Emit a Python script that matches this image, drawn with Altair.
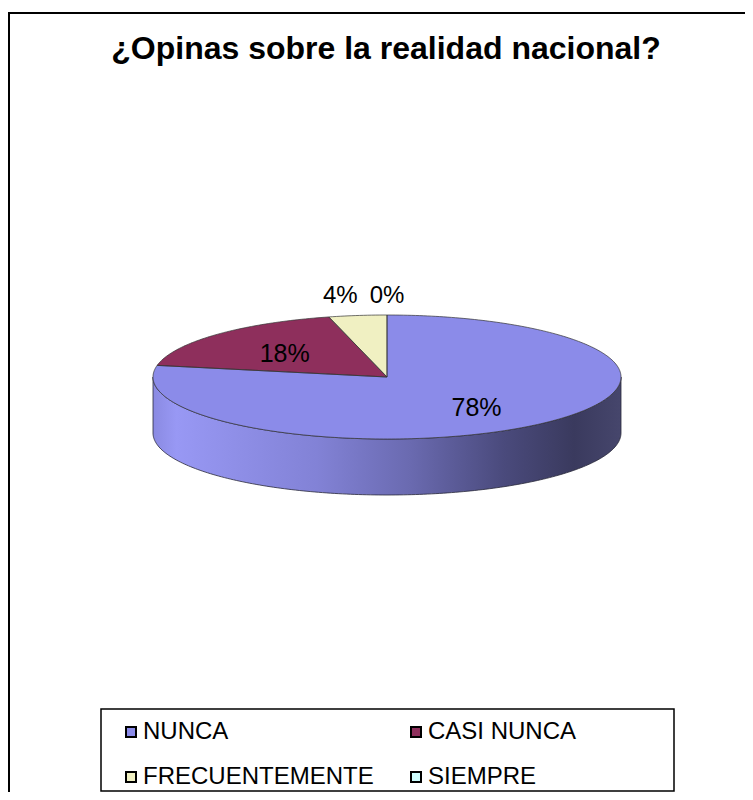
import math
import altair as alt
import pandas as pd

# ---- data ----
categories = ["NUNCA", "CASI NUNCA", "FRECUENTEMENTE", "SIEMPRE"]
values = [78, 18, 4, 0]
labels = ["78%", "18%", "4%", "0%"]
colors = ["#8b8be9", "#8e2f5c", "#f0f0c2", "#ccfcfc"]
title_text = "¿Opinas sobre la realidad nacional?"

# ---- 3D pie geometry (unit circle, tilted) ----
TILT = 62 / 234      # vertical squash of the top ellipse
DEPTH = 56 / 234     # thickness of the pie
RX = 234             # projection scale (ellipse half width in px)
CX, CY = 379, 369    # pie centre in view coordinates
W, H = 737, 784


def pt(theta_deg, dy=0.0, r=1.0):
    t = math.radians(theta_deg)
    return [r * math.sin(t), -r * math.cos(t) * TILT + dy]


total = sum(values)
tops, walls, label_rows = [], [], []
start = 0.0
for cat, v, lab in zip(categories, values, labels):
    span = 360.0 * v / total
    end = start + span
    mid = (start + end) / 2
    if span > 0:
        n = max(2, int(math.ceil(span)))
        ring = [[0.0, 0.0]] + [pt(start + span * i / n) for i in range(n + 1)] + [[0.0, 0.0]]
        tops.append({"type": "Feature", "properties": {"category": cat},
                     "geometry": {"type": "Polygon", "coordinates": [ring]}})
        a, b = max(start, 90.0), min(end, 270.0)
        if b > a:
            m = max(2, int(math.ceil(b - a)))
            top = [pt(a + (b - a) * i / m) for i in range(m + 1)]
            bot = [pt(a + (b - a) * i / m, DEPTH) for i in range(m, -1, -1)]
            wring = top + bot + [top[0]]
            walls.append({"type": "Feature", "properties": {"category": cat},
                          "geometry": {"type": "Polygon", "coordinates": [wring]}})
    frac = v / total
    if frac >= 0.1:
        lon, lat = pt(mid, r=0.6)
        label_rows.append({"label": lab, "lon": lon, "lat": lat, "kind": "inside"})
    else:
        lon, lat = pt(mid, r=1.0)
        s = math.sin(math.radians(mid))
        kind = "right" if s < -0.05 else ("left" if s > 0.05 else "center")
        label_rows.append({"label": lab, "lon": lon, "lat": lat, "kind": kind})
    start = end

labels_df = pd.DataFrame(label_rows)
proj = dict(type="identity", scale=RX, translate=[CX, CY])
one = pd.DataFrame({"k": [0]})
FONT = "Liberation Sans"

frame_left = alt.Chart(one).mark_rule(color="black", strokeWidth=2).encode(
    x=alt.value(1), y=alt.value(5), y2=alt.value(H))
frame_top = alt.Chart(one).mark_rule(color="black", strokeWidth=2).encode(
    x=alt.value(0), x2=alt.value(W), y=alt.value(5))
legend_box = alt.Chart(one).mark_rect(filled=False, stroke="black", strokeWidth=1.5).encode(
    x=alt.value(93), x2=alt.value(666), y=alt.value(701), y2=alt.value(H - 1))

wall_fill = alt.Gradient(
    gradient="linear", x1=0, x2=1, y1=0, y2=0,
    stops=[
        alt.GradientStop(color="#8a8ae2", offset=0.0),
        alt.GradientStop(color="#9898f4", offset=0.05),
        alt.GradientStop(color="#8282d6", offset=0.35),
        alt.GradientStop(color="#6a6ab0", offset=0.55),
        alt.GradientStop(color="#4a4a7c", offset=0.75),
        alt.GradientStop(color="#3a3a5e", offset=0.9),
        alt.GradientStop(color="#46466c", offset=1.0),
    ])

wall = alt.Chart(alt.Data(values=walls)).mark_geoshape(
    fill=wall_fill, stroke="#2a2a3a", strokeWidth=0.8).project(**proj)

# slice tops: fill only, carries the legend
top = alt.Chart(alt.Data(values=tops)).mark_geoshape().encode(
    color=alt.Color(
        "properties.category:N",
        scale=alt.Scale(domain=categories, range=colors),
        legend=alt.Legend(
            orient="none", legendX=111, legendY=712, columns=2, direction="horizontal",
            title=None, symbolType="square", symbolSize=100, symbolStrokeColor="black",
            symbolStrokeWidth=2, symbolOpacity=1, labelFont=FONT, labelFontSize=24,
            labelColor="black", labelOffset=0, rowPadding=21, columnPadding=30,
            labelLimit=400, padding=0))
).project(**proj)

# thin outlines of the slice tops
outline = alt.Chart(alt.Data(values=tops)).mark_geoshape(
    filled=False, stroke="#333333", strokeWidth=0.7).project(**proj)

inside = alt.Chart(labels_df).transform_filter(alt.datum.kind == "inside").mark_text(
    font=FONT, fontSize=25, color="black", align="center", baseline="middle", dy=2
).encode(longitude="lon:Q", latitude="lat:Q", text="label:N").project(**proj)

outside_layers = []
for kind in ["left", "center", "right"]:
    outside_layers.append(
        alt.Chart(labels_df).transform_filter(alt.datum.kind == kind).mark_text(
            font=FONT, fontSize=24, color="black", align=kind, baseline="alphabetic", dy=-12
        ).encode(longitude="lon:Q", latitude="lat:Q", text="label:N").project(**proj))

title = alt.Chart(one).mark_text(
    text=title_text, font=FONT, fontSize=32, fontWeight="bold", color="black",
    align="center", baseline="alphabetic").encode(x=alt.value(378), y=alt.value(51))

chart = alt.layer(
    frame_left, frame_top, legend_box, wall, top, outline, inside, *outside_layers, title
).properties(
    width=W, height=H, autosize="none", padding=0, background="white"
).configure_view(strokeWidth=0)

chart.save("out.html", embed_options={"renderer": "svg", "actions": False})
